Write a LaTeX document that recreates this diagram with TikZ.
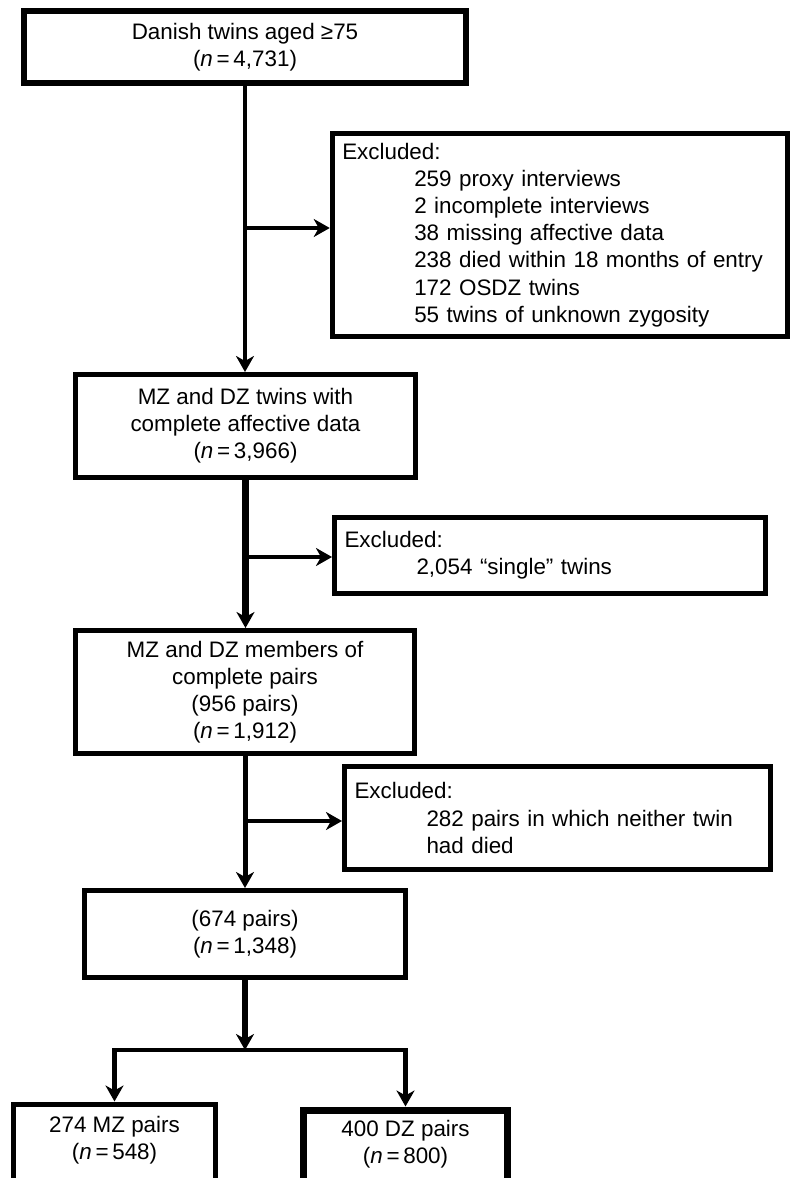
\documentclass[tikz,border=0pt]{standalone}
\usepackage{fontspec}
\setmainfont{Liberation Sans}
\usetikzlibrary{arrows.meta,positioning}

\newcommand{\exind}{\hspace*{36bp}}
\newcommand{\nn}{\textit{n}\,=\,}

\begin{document}
\begin{tikzpicture}[x=0.5bp, y=-0.5bp,
      box/.style={draw, line width=2.5bp, align=center, inner sep=0pt,
                  font=\fontsize{11.2bp}{13.6bp}\selectfont},
      exbox/.style={draw, line width=2.5bp, align=left, inner xsep=5bp, inner ysep=0pt,
                  font=\fontsize{11.2bp}{13.6bp}\selectfont},
      arr/.style={-{Stealth[length=8bp,width=9bp,inset=2.5bp]}, line width=2.5bp},
      side/.style={arr, line width=2bp}
    ]
      \useasboundingbox[fill=white] (0,0) rectangle (790,1178);
      \clip (0,0) rectangle (790,1178);

      % main column
      \node[box, line width=3bp, minimum width=221bp, minimum height=36bp] (danish) at (245,47)
        {Danish twins aged ≥75\\(\nn 4,731)};
      \node[box, minimum width=170bp, minimum height=51.5bp] (twins) at (245.5,426)
        {MZ and DZ twins with\\complete affective data\\(\nn 3,966)};
      \node[box, minimum width=169.5bp, minimum height=61.5bp] (members) at (245,692)
        {MZ and DZ members of\\complete pairs\\(956 pairs)\\(\nn 1,912)};
      \node[box, minimum width=160.5bp, minimum height=43.5bp] (pairs) at (245,934)
        {(674 pairs)\\(\nn 1,348)};
      \node[box, anchor=north, minimum width=101bp, inner ysep=6bp, text depth=16bp] (mz) at (114.5,1101.5)
        {274 MZ pairs\\(\nn 548)};
      \node[box, line width=3.5bp, anchor=north, minimum width=102bp, inner ysep=5bp, text depth=16bp] (dz) at (405.5,1106.5)
        {400 DZ pairs\\(\nn 800)};

      % exclusions
      \node[exbox, text width=217.75bp, minimum height=101.5bp] (excl1) at (560,235)
        {Excluded:\\\exind 259 proxy interviews\\\exind 2 incomplete interviews\\\exind 38 missing affective data\\\exind 238 died within 18 months of entry\\\exind 172 OSDZ twins\\\exind 55 twins of unknown zygosity};
      \node[exbox, text width=205.5bp, minimum height=38bp] (excl2) at (550,555.5)
        {Excluded:\\\exind 2,054 “single” twins};
      \node[exbox, text width=203bp, minimum height=51.5bp] (excl3) at (557.5,818)
        {Excluded:\\\exind 282 pairs in which neither twin\\\exind had died};

      \coordinate (split1) at (245,228);
      \coordinate (split2) at (245,557);
      \coordinate (split3) at (245,821);
      \coordinate (fork) at (245,1050);

      \draw[arr, line width=2bp] (danish.south) -- (danish.south |- twins.north);
      \draw[side] (split1) -- (split1 -| excl1.west);
      \draw[arr, line width=3.2bp] (twins.south) -- (twins.south |- members.north);
      \draw[side] (split2) -- (split2 -| excl2.west);
      \draw[arr] (members.south) -- (members.south |- pairs.north);
      \draw[side] (split3) -- (split3 -| excl3.west);
      \draw[arr, line width=3bp] (pairs.south) -- (fork);
      \draw[arr, line width=2.2bp] (fork) -| (mz.north);
      \draw[arr, line width=2.2bp] (fork) -| (dz.north);
    \end{tikzpicture}
\end{document}
